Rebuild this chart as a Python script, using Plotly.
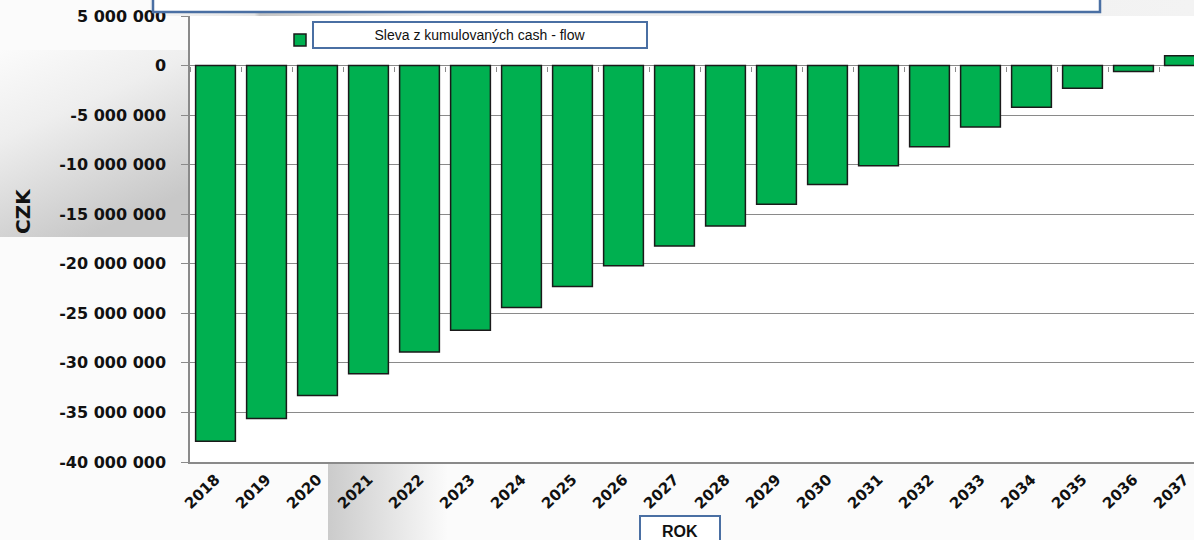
import base64
import plotly.graph_objects as go

years = [str(y) for y in range(2018, 2038)]
values = [-37900000, -35600000, -33300000, -31100000, -28900000, -26700000,
          -24400000, -22300000, -20200000, -18200000, -16200000, -14000000,
          -12000000, -10100000, -8200000, -6200000, -4200000, -2300000,
          -600000, 1000000]
tick_vals = [5000000, 0, -5000000, -10000000, -15000000, -20000000,
             -25000000, -30000000, -35000000, -40000000]
tick_text = ["5 000 000", "0", "-5 000 000", "-10 000 000", "-15 000 000",
             "-20 000 000", "-25 000 000", "-30 000 000", "-35 000 000",
             "-40 000 000"]
series_name = "Sleva z kumulovaných cash - flow"

W, H = 1194, 540
L, R, T, B = 190, 0, 16, 78
pw, ph = W - L - R, H - T - B

def px_x(x):
    return (x - L) / pw

def px_y(y):
    return (H - B - y) / ph

# slide-like background gradients outside the plot area
bg_svg = f"""<svg xmlns='http://www.w3.org/2000/svg' width='{W}' height='{H}' viewBox='0 0 {W} {H}'>
<defs>
<linearGradient id='lg' x1='0' y1='0' x2='0.45' y2='1'>
<stop offset='0' stop-color='#fbfbfb'/><stop offset='0.4' stop-color='#eeeeee'/><stop offset='1' stop-color='#c8c8c8'/>
</linearGradient>
<linearGradient id='tg' x1='0' y1='0' x2='1' y2='0'>
<stop offset='0' stop-color='#f4f4f4'/><stop offset='0.1' stop-color='#e6e6e6'/>
<stop offset='0.105' stop-color='#c6c6c6'/><stop offset='0.27' stop-color='#ececec'/><stop offset='1' stop-color='#f3f3f3'/>
</linearGradient>
<linearGradient id='bg' x1='0' y1='0' x2='1' y2='0'>
<stop offset='0' stop-color='#cbcbcb'/><stop offset='1' stop-color='#fbfbfb'/>
</linearGradient>
</defs>
<rect x='0' y='50' width='190' height='187' fill='url(#lg)'/>
<rect x='150' y='0' width='1044' height='16' fill='url(#tg)'/>
<rect x='328' y='463' width='120' height='77' fill='url(#bg)'/>
</svg>"""
bg_uri = "data:image/svg+xml;base64," + base64.b64encode(bg_svg.encode()).decode()

fig = go.Figure()
fig.add_trace(go.Bar(
    x=years, y=values, name=" ",
    marker=dict(color="#00b050", line=dict(color="#1a1a1a", width=1.5)),
    width=0.78, showlegend=True,
))
fig.add_trace(go.Scatter(x=years, y=[None] * len(years), xaxis="x2",
                         showlegend=False, hoverinfo="skip"))

axis_gray = "#8a8a8a"

fig.update_layout(
    width=W, height=H,
    margin=dict(l=L, r=R, t=T, b=B, pad=0),
    paper_bgcolor="#fbfbfb",
    plot_bgcolor="#ffffff",
    xaxis=dict(
        type="category", range=[-0.5, -0.5 + pw / 51.0],
        showgrid=False, showline=True, linecolor=axis_gray, linewidth=1.5,
        ticks="", tickangle=-44,
        tickfont=dict(family="DejaVu Sans", size=15, color="#111111", weight="bold"),
        ticklabelstandoff=1,
    ),
    xaxis2=dict(
        type="category", overlaying="x", matches="x", anchor="free",
        position=px_y(66), side="bottom", showline=False, showgrid=False,
        ticks="outside", ticklen=5, tickwidth=1, tickcolor=axis_gray,
        tickson="boundaries", showticklabels=False,
    ),
    yaxis=dict(
        range=[-40000000, 5000000], tickvals=tick_vals, ticktext=tick_text,
        showgrid=True, gridcolor=axis_gray, gridwidth=1,
        zeroline=True, zerolinecolor=axis_gray, zerolinewidth=1.2,
        showline=True, linecolor=axis_gray, linewidth=1.5,
        ticks="outside", ticklen=7, tickcolor=axis_gray,
        tickfont=dict(family="DejaVu Sans", size=16, color="#111111", weight="bold"),
        ticklabelstandoff=12,
    ),
    legend=dict(
        x=px_x(280), xanchor="left", y=px_y(40), yanchor="middle",
        bgcolor="rgba(0,0,0,0)", font=dict(size=12),
    ),
    images=[dict(source=bg_uri, xref="paper", yref="paper",
                 x=px_x(0), y=px_y(0), sizex=W / pw, sizey=H / ph,
                 xanchor="left", yanchor="top", sizing="stretch", layer="below")],
    shapes=[
        dict(type="rect", xref="paper", yref="paper",
             x0=px_x(153), x1=px_x(1100), y0=px_y(12), y1=px_y(-10),
             line=dict(color="#4a6fa3", width=2.5), fillcolor="#ffffff", layer="above"),
    ],
    annotations=[
        dict(text="CZK", textangle=-90, xref="paper", yref="paper",
             x=px_x(23), y=px_y(211), xanchor="center", yanchor="middle",
             showarrow=False,
             font=dict(family="DejaVu Sans", size=20, color="#111111", weight="bold")),
        dict(text=series_name, xref="paper", yref="paper",
             x=px_x(480), y=px_y(35), xanchor="center", yanchor="middle",
             showarrow=False,
             width=330, height=22, bgcolor="#ffffff",
             bordercolor="#4a6fa3", borderwidth=2,
             font=dict(family="Liberation Sans", size=14, color="#111111")),
        dict(text="<b>ROK</b>", xref="paper", yref="paper",
             x=px_x(680), y=px_y(531), xanchor="center", yanchor="middle",
             showarrow=False,
             width=76, height=26, bgcolor="#ffffff",
             bordercolor="#4a6fa3", borderwidth=2,
             font=dict(family="Liberation Sans", size=16, color="#111111")),
    ],
)

fig.write_html("out.html", config={"displayModeBar": False},
               post_script="document.body.style.margin='0';")
